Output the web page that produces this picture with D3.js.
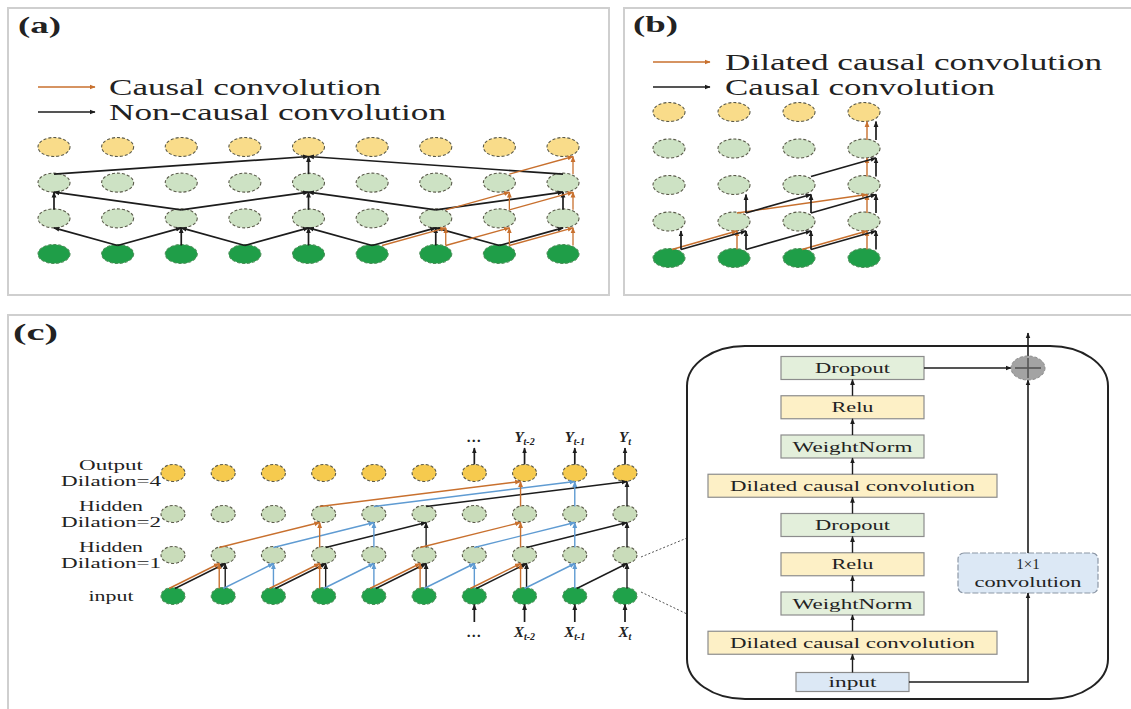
<!DOCTYPE html>
<html>
<head>
<meta charset="utf-8">
<script src="https://cdn.jsdelivr.net/npm/d3@7"></script>
<style>
  body { margin: 0; background: #fff; }
  svg { display: block; }
  text { font-family: "Liberation Serif", "Times New Roman", serif; fill: #222; }
</style>
</head>
<body>
<svg id="chart" width="1131" height="709"></svg>
<script>
// ---------- data ----------
const panelLabels = ["(a)", "(b)", "(c)"];

// panel (a): 9 steps, non-causal vs causal convolution
const aSteps = [0, 1, 2, 3, 4, 5, 6, 7, 8];
const aLayers = ["output", "hidden2", "hidden1", "input"];
const aLegend = ["Causal convolution", "Non-causal convolution"];
// [fromLayer, fromStep, toStep] -> goes to the layer above
const aNonCausal = [
  ["input", 1, 0], ["input", 1, 2], ["input", 2, 2], ["input", 3, 2], ["input", 3, 4], ["input", 4, 4],
  ["input", 5, 4], ["input", 5, 6], ["input", 6, 6], ["input", 7, 6], ["input", 7, 8],
  ["hidden1", 0, 0], ["hidden1", 2, 0], ["hidden1", 2, 4], ["hidden1", 4, 4], ["hidden1", 6, 4],
  ["hidden1", 6, 8], ["hidden1", 8, 8],
  ["hidden2", 0, 4], ["hidden2", 4, 4], ["hidden2", 8, 4]
];
const aCausal = [
  ["input", 5, 6], ["input", 6, 6], ["input", 6, 7], ["input", 7, 7], ["input", 7, 8], ["input", 8, 8],
  ["hidden1", 6, 7], ["hidden1", 7, 7], ["hidden1", 7, 8], ["hidden1", 8, 8],
  ["hidden2", 7, 8], ["hidden2", 8, 8]
];

// panel (b): 4 steps, dilated causal vs causal
const bSteps = [0, 1, 2, 3];
const bLayers = ["output", "hidden3", "hidden2", "hidden1", "input"];
const bLegend = ["Dilated causal convolution", "Causal convolution"];
const bDilated = [
  ["input", 0, 1], ["input", 1, 1], ["input", 2, 3], ["input", 3, 3],
  ["hidden1", 1, 3], ["hidden1", 3, 3], ["hidden2", 3, 3], ["hidden3", 3, 3]
];
const bCausal = [
  ["input", 0, 0], ["input", 0, 1], ["input", 1, 1], ["input", 1, 2], ["input", 2, 2], ["input", 2, 3], ["input", 3, 3],
  ["hidden1", 1, 1], ["hidden1", 1, 2], ["hidden1", 2, 2], ["hidden1", 2, 3], ["hidden1", 3, 3],
  ["hidden2", 2, 3], ["hidden2", 3, 3], ["hidden3", 3, 3]
];

// panel (c): TCN, 10 steps, dilations 1,2,4
const cSteps = [0, 1, 2, 3, 4, 5, 6, 7, 8, 9];
const cLayers = ["output", "hidden2", "hidden1", "input"];
const cLayerNames = [["Output", "Dilation=4"], ["Hidden", "Dilation=2"], ["Hidden", "Dilation=1"], ["input"]];
const cDilations = { hidden1: 1, hidden2: 2, output: 4 };
const cTraced = [{ step: 9, color: "black" }, { step: 8, color: "blue" }, { step: 7, color: "orange" }];
const cExtraBlack = [["input", 0, 1], ["input", 1, 1]];
const cOutLabels = [{ step: 6, base: "\u2026", sub: "" }, { step: 7, base: "Y", sub: "t-2" }, { step: 8, base: "Y", sub: "t-1" }, { step: 9, base: "Y", sub: "t" }];
const cInLabels = [{ step: 6, base: "\u2026", sub: "" }, { step: 7, base: "X", sub: "t-2" }, { step: 8, base: "X", sub: "t-1" }, { step: 9, base: "X", sub: "t" }];

// residual block, bottom to top
const blockStack = ["input", "Dilated causal convolution", "WeightNorm", "Relu", "Dropout",
  "Dilated causal convolution", "WeightNorm", "Relu", "Dropout"];
const blockKind = ["blue", "yellow", "green", "yellow", "green", "yellow", "green", "yellow", "green"];

// ---------- drawing ----------
const colors = { black: "#1c1c1c", orange: "#c8702e", blue: "#5f9bd2" };
const fills = { output: "#f9dc8a", hidden: "#cde2c4", input: "#1f9e48" };
const boxFill = { blue: "#dce8f5", yellow: "#fdf0c6", green: "#e3efdb" };

const svg = d3.select("#chart");
const defs = svg.append("defs");
Object.keys(colors).forEach(k => {
  defs.append("marker")
    .attr("id", "arr-" + k)
    .attr("viewBox", "0 0 10 10")
    .attr("refX", 9).attr("refY", 5)
    .attr("markerWidth", 6).attr("markerHeight", 6)
    .attr("markerUnits", "userSpaceOnUse")
    .attr("orient", "auto")
    .append("path").attr("d", "M0,1L10,5L0,9z").attr("fill", colors[k]);
});

// panel frames
const frames = [[8, 8, 601, 287], [624, 8, 520, 287], [8, 315, 1130, 400]];
svg.selectAll(".frame").data(frames).join("rect")
  .attr("class", "frame")
  .attr("x", d => d[0]).attr("y", d => d[1])
  .attr("width", d => d[2]).attr("height", d => d[3])
  .attr("fill", "none").attr("stroke", "#cfcfcf").attr("stroke-width", 2);

const labelPos = [[18, 33, 43], [633, 32, 45], [13, 340, 45]];
svg.selectAll(".plabel").data(panelLabels).join("text")
  .attr("class", "plabel")
  .attr("x", (d, i) => labelPos[i][0]).attr("y", (d, i) => labelPos[i][1])
  .attr("font-size", 24).attr("font-weight", "bold")
  .attr("textLength", (d, i) => labelPos[i][2]).attr("lengthAdjust", "spacingAndGlyphs")
  .text(d => d);

function drawNodes(g, steps, layers, x, y, rx, ry, pal) {
  const nodes = [];
  layers.forEach(l => steps.forEach(s => nodes.push({ layer: l, step: s })));
  g.selectAll(null).data(nodes).join("ellipse")
    .attr("cx", d => x(d.step)).attr("cy", d => y(d.layer))
    .attr("rx", rx).attr("ry", ry)
    .attr("fill", d => d.layer === "output" ? pal.output : (d.layer === "input" ? pal.input : pal.hidden))
    .attr("stroke", d => d.layer === "input" ? "#4f8f5a" : "#5a5a4a")
    .attr("stroke-width", 1.1)
    .attr("stroke-dasharray", "3,2");
}

function drawEdges(g, edges, layers, x, y, ry, color, dx, width) {
  const up = {};
  layers.forEach((l, i) => { if (i > 0) up[l] = layers[i - 1]; });
  g.selectAll(null).data(edges).join("line")
    .attr("x1", d => x(d[1]) + dx).attr("y1", d => y(d[0]) - ry + 1)
    .attr("x2", d => x(d[2]) + dx).attr("y2", d => y(up[d[0]]) + ry)
    .attr("stroke", colors[color]).attr("stroke-width", width)
    .attr("marker-end", "url(#arr-" + color + ")");
}

function drawLegend(g, items, itemColors, x0, x1, ys, tx, lens) {
  items.forEach((t, i) => {
    g.append("line").attr("x1", x0).attr("x2", x1).attr("y1", ys[i]).attr("y2", ys[i])
      .attr("stroke", colors[itemColors[i]]).attr("stroke-width", 1.6)
      .attr("marker-end", "url(#arr-" + itemColors[i] + ")");
    g.append("text").attr("x", tx).attr("y", ys[i] + 8)
      .attr("font-size", 24)
      .attr("textLength", lens[i]).attr("lengthAdjust", "spacingAndGlyphs")
      .text(t);
  });
}

// ----- panel (a)
const ga = svg.append("g");
const ax = d3.scalePoint().domain(aSteps).range([54, 563]);
const ay = d3.scalePoint().domain(aLayers).range([147, 254]);
drawLegend(ga, aLegend, ["orange", "black"], 38, 95, [87, 112], 109, [272, 337]);
drawNodes(ga, aSteps, aLayers, ax, ay, 16, 9.5, fills);
drawEdges(ga, aNonCausal, aLayers, ax, ay, 9.5, "black", 0, 1.7);
drawEdges(ga, aCausal, aLayers, ax, ay, 9.5, "orange", 10, 1.3);

// ----- panel (b)
const gb = svg.append("g");
const bx = d3.scalePoint().domain(bSteps).range([669, 864]);
const by = d3.scalePoint().domain(bLayers).range([112, 258]);
drawLegend(gb, bLegend, ["orange", "black"], 653, 710, [62, 87], 725, [377, 270]);
drawNodes(gb, bSteps, bLayers, bx, by, 16, 9.5, fills);
drawEdges(gb, bDilated, bLayers, bx, by, 9.5, "orange", 3, 1.4);
drawEdges(gb, bCausal, bLayers, bx, by, 9.5, "black", 12, 1.7);

// ----- panel (c) network
const gc = svg.append("g");
const cx = d3.scalePoint().domain(cSteps).range([173, 625]);
const cy = d3.scalePoint().domain(cLayers).range([473, 596]);
const cUpward = cLayers.slice().reverse(); // input .. output

function trace(li, step, out, seen) {
  if (li === 0) return;
  const layer = cUpward[li];
  [step, step - cDilations[layer]].forEach(s => {
    if (s < 0) return;
    const key = li + ":" + s + ":" + step;
    if (!seen.has(key)) {
      seen.add(key);
      out.push([cUpward[li - 1], s, step]);
    }
    trace(li - 1, s, out, seen);
  });
}

drawNodes(gc, cSteps, cLayers, cx, cy, 12, 8.5, { output: "#f6ca4e", hidden: "#c9dcba", input: "#1fa24a" });
const cOffset = { orange: -4, blue: 0, black: 2 };
cTraced.forEach(t => {
  const edges = [];
  trace(cUpward.length - 1, t.step, edges, new Set());
  if (t.color === "black") cExtraBlack.forEach(e => edges.push(e));
  drawEdges(gc, edges, cLayers, cx, cy, 8.5, t.color, cOffset[t.color], 1.4);
});

// layer names
cLayerNames.forEach((lines, i) => {
  const yc = cy(cLayers[i]);
  lines.forEach((t, j) => {
    const yy = lines.length === 1 ? yc + 5 : yc - 3 + j * 16;
    gc.append("text").attr("x", 111).attr("y", yy)
      .attr("text-anchor", "middle").attr("font-size", 15)
      .attr("textLength", t.length > 6 ? 100 : (t === "input" ? 45 : 64))
      .attr("lengthAdjust", "spacingAndGlyphs")
      .text(t);
  });
});

// output / input arrows and labels
cOutLabels.forEach(d => {
  gc.append("line").attr("x1", cx(d.step)).attr("x2", cx(d.step))
    .attr("y1", cy("output") - 8.5).attr("y2", 448)
    .attr("stroke", colors.black).attr("stroke-width", 1.7).attr("marker-end", "url(#arr-black)");
  const t = gc.append("text").attr("x", cx(d.step)).attr("y", 442).attr("text-anchor", "middle")
    .attr("font-size", 15).attr("font-weight", "bold").attr("font-style", "italic");
  t.append("tspan").text(d.base);
  if (d.sub) t.append("tspan").attr("font-size", 10).attr("dy", 3).text(d.sub);
});
cInLabels.forEach(d => {
  gc.append("line").attr("x1", cx(d.step)).attr("x2", cx(d.step))
    .attr("y1", 622).attr("y2", cy("input") + 8.5)
    .attr("stroke", colors.black).attr("stroke-width", 1.7).attr("marker-end", "url(#arr-black)");
  const t = gc.append("text").attr("x", cx(d.step)).attr("y", 637).attr("text-anchor", "middle")
    .attr("font-size", 15).attr("font-weight", "bold").attr("font-style", "italic");
  t.append("tspan").text(d.base);
  if (d.sub) t.append("tspan").attr("font-size", 10).attr("dy", 3).text(d.sub);
});

// dotted zoom lines
gc.append("line").attr("x1", 641).attr("y1", 557).attr("x2", 687).attr("y2", 538)
  .attr("stroke", "#555").attr("stroke-width", 1).attr("stroke-dasharray", "2,2");
gc.append("line").attr("x1", 641).attr("y1", 592).attr("x2", 687).attr("y2", 614)
  .attr("stroke", "#555").attr("stroke-width", 1).attr("stroke-dasharray", "2,2");

// ----- residual block
const gr = svg.append("g");
gr.append("rect").attr("x", 687).attr("y", 346).attr("width", 421).attr("height", 353)
  .attr("rx", 58).attr("ry", 40)
  .attr("fill", "none").attr("stroke", "#222").attr("stroke-width", 2);

const blockY = d3.scalePoint().domain(d3.range(blockStack.length)).range([682, 368]);
const blockW = t => t === "input" ? 113 : (t.length > 15 ? 289 : 143);
const blockText = { "input": 48, "Dilated causal convolution": 245, "WeightNorm": 120, "Relu": 42, "Dropout": 75 };
const midX = 852.5;

blockStack.forEach((t, i) => {
  const h = t === "input" ? 19 : 23;
  gr.append("rect")
    .attr("x", midX - blockW(t) / 2).attr("y", blockY(i) - h / 2)
    .attr("width", blockW(t)).attr("height", h)
    .attr("fill", boxFill[blockKind[i]]).attr("stroke", "#8c8c8c").attr("stroke-width", 1.2);
  gr.append("text").attr("x", midX).attr("y", blockY(i) + 5)
    .attr("text-anchor", "middle").attr("font-size", 15)
    .attr("textLength", blockText[t]).attr("lengthAdjust", "spacingAndGlyphs")
    .text(t);
  if (i > 0) {
    const hPrev = blockStack[i - 1] === "input" ? 19 : 23;
    gr.append("line").attr("x1", midX).attr("x2", midX)
      .attr("y1", blockY(i - 1) - hPrev / 2).attr("y2", blockY(i) + h / 2)
      .attr("stroke", colors.black).attr("stroke-width", 1.4)
      .attr("marker-end", "url(#arr-black)");
  }
});

// 1x1 convolution shortcut
const skipX = 1028;
gr.append("rect").attr("x", 958).attr("y", 553).attr("width", 140).attr("height", 40).attr("rx", 6)
  .attr("fill", boxFill.blue).attr("stroke", "#8c97a6").attr("stroke-width", 1.2).attr("stroke-dasharray", "6,2");
const conv = gr.append("text").attr("x", skipX).attr("text-anchor", "middle").attr("font-size", 15);
conv.append("tspan").attr("x", skipX).attr("y", 569).text("1\u00d71");
conv.append("tspan").attr("x", skipX).attr("y", 587).attr("textLength", 107).attr("lengthAdjust", "spacingAndGlyphs").text("convolution");

const topY = blockY(blockStack.length - 1);
gr.append("path")
  .attr("d", `M${midX + 56.5},${blockY(0)}H${skipX}V593`)
  .attr("fill", "none").attr("stroke", colors.black).attr("stroke-width", 1.6)
  .attr("marker-end", "url(#arr-black)");
gr.append("line").attr("x1", skipX).attr("x2", skipX).attr("y1", 553).attr("y2", topY + 12)
  .attr("stroke", colors.black).attr("stroke-width", 1.6).attr("marker-end", "url(#arr-black)");
gr.append("line").attr("x1", midX + 71.5).attr("x2", skipX - 17).attr("y1", topY).attr("y2", topY)
  .attr("stroke", colors.black).attr("stroke-width", 1.4).attr("marker-end", "url(#arr-black)");
gr.append("line").attr("x1", skipX).attr("x2", skipX).attr("y1", topY - 12).attr("y2", 333)
  .attr("stroke", colors.black).attr("stroke-width", 1.6).attr("marker-end", "url(#arr-black)");
gr.append("ellipse").attr("cx", skipX).attr("cy", topY).attr("rx", 17).attr("ry", 12)
  .attr("fill", "#a3a3a3").attr("stroke", "#8a8a8a").attr("stroke-dasharray", "3,2");
gr.append("line").attr("x1", skipX - 13).attr("x2", skipX + 13).attr("y1", topY).attr("y2", topY)
  .attr("stroke", "#555").attr("stroke-width", 1.6);
gr.append("line").attr("x1", skipX).attr("x2", skipX).attr("y1", topY - 10).attr("y2", topY + 10)
  .attr("stroke", "#555").attr("stroke-width", 1.6);
</script>
</body>
</html>
